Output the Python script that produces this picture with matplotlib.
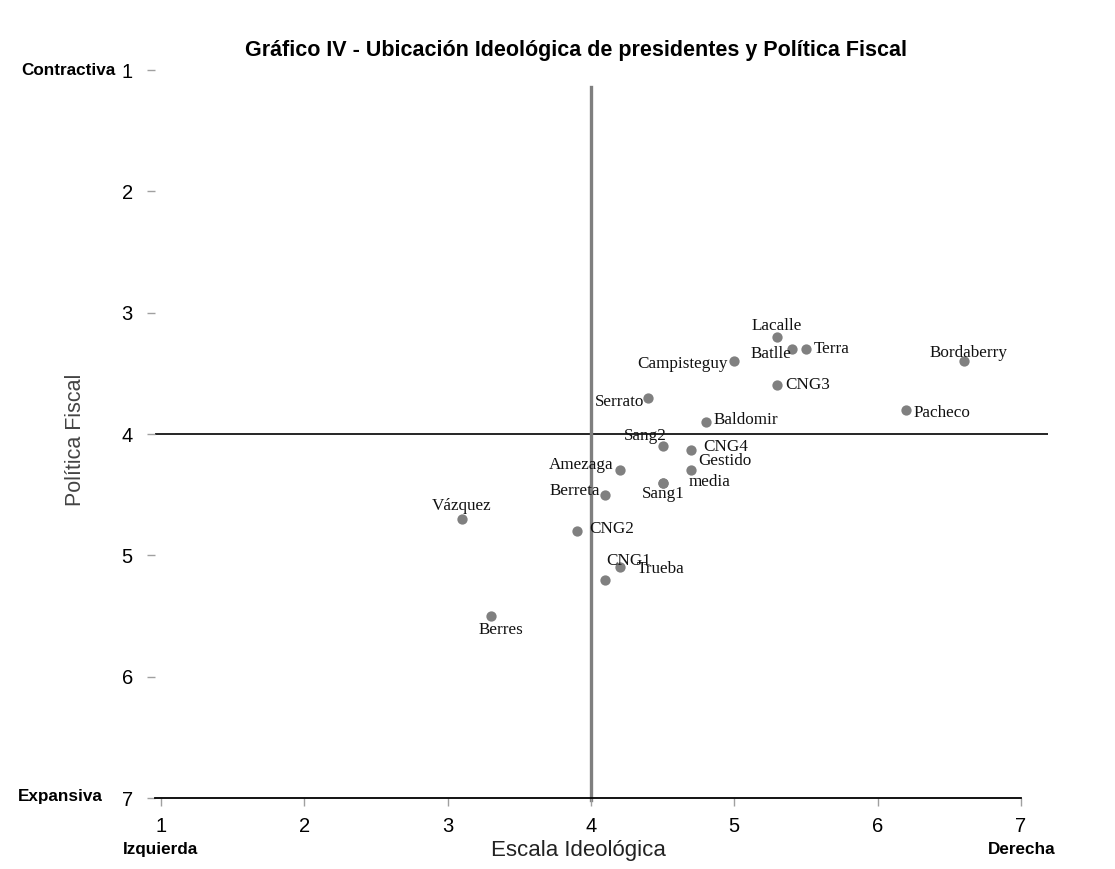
import matplotlib
matplotlib.use("Agg")
import matplotlib.pyplot as plt

# presidents: ideological scale (x) vs fiscal policy (y)
names = ["Lacalle", "Batlle", "Terra", "Bordaberry", "Campisteguy", "CNG3",
         "Serrato", "Pacheco", "Baldomir", "Sang2", "CNG4", "Gestido",
         "Amezaga", "media", "Sang1", "Berreta", "Vázquez", "CNG2",
         "CNG1", "Trueba", "Berres"]
ideologia = [5.3, 5.4, 5.5, 6.6, 5.0, 5.3,
             4.4, 6.2, 4.8, 4.5, 4.7, 4.7,
             4.2, 4.5, 4.5, 4.1, 3.1, 3.9,
             4.2, 4.1, 3.3]
fiscal = [3.2, 3.3, 3.3, 3.4, 3.4, 3.6,
          3.7, 3.8, 3.9, 4.1, 4.13, 4.3,
          4.3, 4.4, 4.4, 4.5, 4.7, 4.8,
          5.1, 5.2, 5.5]

ticks = [1, 2, 3, 4, 5, 6, 7]

# label offsets in pixels (dx right, dy up), layout only
offsets = {
    "Lacalle": (0, 11), "Batlle": (-21, -5), "Terra": (26, 0),
    "Bordaberry": (5, 8), "Campisteguy": (-52, -3), "CNG3": (30, 0),
    "Serrato": (-29, -4), "Pacheco": (36, -3), "Baldomir": (40, 2),
    "Sang2": (-17, 10), "CNG4": (34, 3), "Gestido": (34, 9),
    "Amezaga": (-38, 5), "media": (47, 1), "Sang1": (1, -11),
    "Berreta": (-30, 4), "Vázquez": (0, 13), "CNG2": (35, 2),
    "CNG1": (9, 6), "Trueba": (55, 11), "Berres": (10, -14),
}

sans = ["Liberation Sans", "DejaVu Sans"]

fig = plt.figure(figsize=(11.15, 8.69), dpi=100)
ax = fig.add_axes([0.139, 0.0817, 0.801, 0.8377])

ax.set_xlim(0.958, 7.19)
ax.set_ylim(7, 1)

ax.axhline(4, color="black", lw=1.2, zorder=1)
ax.plot([4, 4], [7.02, 1.14], color="#7f7f7f", lw=2.4, zorder=1, clip_on=False)

ax.scatter(ideologia, fiscal, s=55, color="#808080", zorder=3, linewidths=0)

for n, x, y in zip(names, ideologia, fiscal):
    dx, dy = offsets[n]
    ax.annotate(n, (x, y), xytext=(dx, dy), textcoords="offset pixels",
                ha="center", va="center", fontsize=12.3,
                family="Liberation Serif", color="#111111", zorder=4)

for s in ["top", "right", "left"]:
    ax.spines[s].set_visible(False)
ax.spines["bottom"].set_bounds(0.958, 7)
ax.spines["bottom"].set_linewidth(1.3)

ax.set_xticks(ticks)
ax.set_yticks(ticks)
ax.tick_params(axis="x", direction="out", length=6, width=1, color="#a0a0a0",
               labelsize=14.5, pad=8)
ax.tick_params(axis="y", direction="out", length=6, width=1, color="#a0a0a0",
               labelsize=14.5, pad=10)
for lab in ax.get_xticklabels() + ax.get_yticklabels():
    lab.set_family(sans)

ax.set_xlabel("Escala Ideológica", fontsize=16, family=sans, color="#222222")
ax.xaxis.set_label_coords(0.474, -0.058)
ax.set_ylabel("Política Fiscal", fontsize=15.5, family=sans, color="#444444")
ax.yaxis.set_label_coords(-0.077, 0.492)

fig.text(0.517, 0.942, "Gráfico IV - Ubicación Ideológica de presidentes y Política Fiscal",
         ha="center", va="center", fontsize=15.5, fontweight="bold", family=sans)

kw = dict(fontsize=12.3, fontweight="bold", family=sans)
fig.text(0.104, 0.919, "Contractiva", ha="right", va="center", **kw)
fig.text(0.092, 0.083, "Expansiva", ha="right", va="center", **kw)
fig.text(0.144, 0.022, "Izquierda", ha="center", va="center", **kw)
fig.text(0.916, 0.022, "Derecha", ha="center", va="center", **kw)

fig.savefig("out.png", dpi=100)
